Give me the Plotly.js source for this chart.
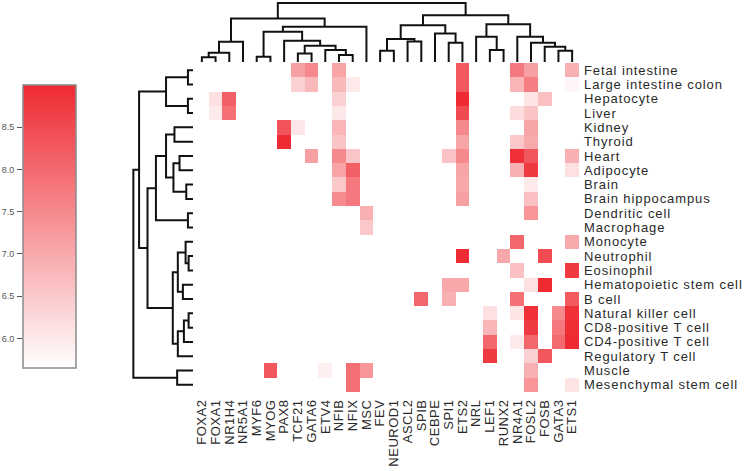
<!DOCTYPE html>
<html>
<head>
<meta charset="utf-8">
<script src="https://cdn.plot.ly/plotly-3.0.1.min.js"></script>
<style>
  body { margin: 0; background: #fff; }
  #plot { width: 746px; height: 471px; }
  #plot .ytick text { letter-spacing: 0.9px; }
  #plot .xtick text { letter-spacing: 0.5px; }
</style>
</head>
<body>
<div id="plot"></div>
<script>
var factors = ["FOXA2", "FOXA1", "NR1H4", "NR5A1", "MYF6", "MYOG", "PAX8", "TCF21",
  "GATA6", "ETV4", "NFIB", "NFIX", "MSC", "FEV", "NEUROD1", "ASCL2", "SPIB", "CEBPE",
  "SPI1", "ETS2", "NRL", "LEF1", "RUNX2", "NR4A1", "FOSL2", "FOSB", "GATA3", "ETS1"];

var tissues = ["Fetal intestine", "Large intestine colon", "Hepatocyte", "Liver", "Kidney",
  "Thyroid", "Heart", "Adipocyte", "Brain", "Brain hippocampus", "Dendritic cell",
  "Macrophage", "Monocyte", "Neutrophil", "Eosinophil", "Hematopoietic stem cell", "B cell",
  "Natural killer cell", "CD8-positive T cell", "CD4-positive T cell", "Regulatory T cell",
  "Muscle", "Mesenchymal stem cell"];

// enrichment scores, one list per tissue (same order as tissues)
var scores = [
  [["TCF21", 7.15], ["GATA6", 7.5], ["NFIB", 7.07], ["ETS2", 8.25], ["NR4A1", 7.75], ["FOSL2", 7.15], ["ETS1", 6.89]],
  [["TCF21", 6.39], ["GATA6", 6.77], ["NFIB", 6.77], ["NFIX", 6.0], ["ETS2", 8.25], ["NR4A1", 6.81], ["FOSL2", 7.68], ["ETS1", 5.79]],
  [["FOXA1", 6.14], ["NR1H4", 8.15], ["NFIB", 6.39], ["ETS2", 9.0], ["FOSL2", 6.07], ["FOSB", 6.64]],
  [["FOXA1", 5.97], ["NR1H4", 7.9], ["NFIB", 6.01], ["ETS2", 8.5], ["NR4A1", 6.2], ["FOSL2", 6.58]],
  [["PAX8", 8.35], ["TCF21", 6.05], ["NFIB", 6.81], ["ETS2", 7.5], ["FOSL2", 7.07]],
  [["PAX8", 9.0], ["NFIB", 6.58], ["ETS2", 7.07], ["NR4A1", 6.51], ["FOSL2", 7.0]],
  [["GATA6", 7.15], ["NFIB", 7.5], ["NFIX", 6.56], ["SPI1", 6.58], ["ETS2", 7.5], ["NR4A1", 8.9], ["FOSL2", 8.3], ["ETS1", 6.89]],
  [["NFIB", 7.1], ["NFIX", 8.15], ["ETS2", 7.07], ["NR4A1", 6.89], ["FOSL2", 8.75], ["ETS1", 6.14]],
  [["NFIB", 6.51], ["NFIX", 7.77], ["ETS2", 7.02], ["FOSL2", 6.0]],
  [["NFIB", 7.48], ["NFIX", 7.75], ["ETS2", 7.15], ["FOSL2", 6.64]],
  [["MSC", 6.89], ["FOSL2", 7.32]],
  [["MSC", 6.51]],
  [["NR4A1", 8.05], ["ETS1", 6.99]],
  [["ETS2", 9.0], ["RUNX2", 7.02], ["FOSB", 8.5]],
  [["NR4A1", 6.64], ["ETS1", 8.75]],
  [["SPI1", 7.02], ["ETS2", 7.02], ["FOSL2", 6.14], ["FOSB", 9.0]],
  [["SPIB", 8.05], ["SPI1", 6.89], ["NR4A1", 7.9], ["ETS1", 8.25]],
  [["LEF1", 6.14], ["NR4A1", 6.07], ["FOSL2", 8.9], ["GATA3", 7.5], ["ETS1", 8.9]],
  [["LEF1", 6.81], ["FOSL2", 8.75], ["GATA3", 7.77], ["ETS1", 8.95]],
  [["LEF1", 8.05], ["NR4A1", 5.98], ["FOSL2", 8.05], ["GATA3", 8.0], ["ETS1", 9.0]],
  [["LEF1", 8.75], ["FOSL2", 6.39], ["FOSB", 8.3]],
  [["MYOG", 8.3], ["ETV4", 5.89], ["NFIX", 7.9], ["MSC", 7.32], ["FOSL2", 6.89]],
  [["NFIX", 7.9], ["FOSL2", 7.32], ["ETS1", 6.07]]
];

var zmin = 5.65, zmax = 9.0;
var cbTicks = [6.0, 6.5, 7.0, 7.5, 8.0, 8.5];

// clustering trees: [left, right, height], leaves are indices into factors / tissues
var colTree = [
  [[[[0, 1, 14], 2, 28], 3, 61],
   [[[4, 5, 16], [6, [[7, 8, 26], [9, [10, 11, 21], 36], 49], 64], 91], 12, 106], 131],
  [[[[13, 14, 34], [15, 16, 62], 69], [17, [18, 19, 58], 86], 111],
   [[20, [21, 22, 36], 76], [23, [24, [25, [26, 27, 34], 46], 58], 76], 114], 141],
  178];

var rowTree = [
  [[[0, 1, 15], [2, 3, 15], 80],
   [[[[4, 5, 55], [[6, 7, 40], [8, 9, 20], 58], 80], [10, 11, 15], 110],
    [[[12, [13, 14, 13], 22], [15, 16, 30], 45], [[[17, 18, 13], 19, 27], 20, 45], 60], 135], 160],
  [21, 22, 47],
  177];

var z = tissues.map(function (t, i) {
  var row = factors.map(function () { return null; });
  scores[i].forEach(function (s) { row[factors.indexOf(s[0])] = s[1]; });
  return row;
});

function dendro(tree) {
  var pos = [], hgt = [];
  function walk(node) {
    if (typeof node === "number") return { p: node, h: 0 };
    var a = walk(node[0]), b = walk(node[1]), h = node[2];
    pos.push(a.p, a.p, b.p, b.p, null);
    hgt.push(a.h, h, h, b.h, null);
    return { p: (a.p + b.p) / 2, h: h };
  }
  walk(tree);
  return { pos: pos, hgt: hgt };
}

var colDendro = dendro(colTree);
var rowDendro = dendro(rowTree);

var W = 746, H = 471;
function px(a, b) { return [a / W, b / W]; }
function py(a, b) { return [1 - b / H, 1 - a / H]; }

var heat = {
  type: "heatmap",
  x: factors,
  y: tissues,
  z: z,
  zmin: zmin,
  zmax: zmax,
  colorscale: [[0, "#ffffff"], [1, "#ee2a32"]],
  hoverongaps: false,
  colorbar: {
    x: 23 / W, xanchor: "left", xref: "paper",
    y: 1 - 85 / H, yanchor: "top", yref: "paper",
    len: 283 / H, lenmode: "fraction",
    thickness: 53, thicknessmode: "pixels",
    xpad: 0, ypad: 0,
    outlinewidth: 1.5, outlinecolor: "#8a8a8a",
    showticklabels: false, ticks: ""
  }
};

var topLines = {
  type: "scatter", mode: "lines", x: colDendro.pos, y: colDendro.hgt,
  xaxis: "x2", yaxis: "y2", line: { color: "#111", width: 2 },
  hoverinfo: "skip", showlegend: false
};

var sideLines = {
  type: "scatter", mode: "lines", x: rowDendro.hgt, y: rowDendro.pos,
  xaxis: "x3", yaxis: "y3", line: { color: "#111", width: 2 },
  hoverinfo: "skip", showlegend: false
};

var cbAxis = {
  type: "scatter", x: [], y: [], xaxis: "x4", yaxis: "y4",
  showlegend: false, hoverinfo: "skip"
};

var labelFont = { family: "Liberation Sans, Arial, sans-serif", size: 13, color: "#2a2a2a" };

var layout = {
  width: W,
  height: H,
  margin: { l: 0, r: 0, t: 0, b: 0 },
  paper_bgcolor: "#fff",
  plot_bgcolor: "rgba(0,0,0,0)",
  showlegend: false,
  xaxis: {
    domain: px(195, 579), anchor: "y", type: "category",
    tickmode: "array", tickvals: factors, ticktext: factors,
    tickangle: -90, tickfont: labelFont, ticks: "", showgrid: false,
    zeroline: false, showline: false, fixedrange: true, ticklabelstandoff: 4
  },
  yaxis: {
    domain: py(63, 392), anchor: "x", type: "category", side: "right",
    tickmode: "array", tickvals: tissues, ticktext: tissues,
    autorange: "reversed", tickfont: labelFont, ticks: "", showgrid: false,
    zeroline: false, showline: false, fixedrange: true, ticklabelstandoff: 4
  },
  xaxis2: {
    domain: px(195, 579), anchor: "y2", range: [-0.5, factors.length - 0.5],
    visible: false, fixedrange: true
  },
  yaxis2: {
    domain: py(1, 62), anchor: "x2", range: [0, 184],
    visible: false, fixedrange: true
  },
  xaxis3: {
    domain: px(132, 193), anchor: "y3", range: [181, 0],
    visible: false, fixedrange: true
  },
  yaxis3: {
    domain: py(63, 392), anchor: "x3", range: [tissues.length - 0.5, -0.5],
    visible: false, fixedrange: true
  },
  xaxis4: {
    domain: px(23, 76), anchor: "y4", range: [0, 1],
    visible: false, fixedrange: true
  },
  yaxis4: {
    domain: py(85, 368), anchor: "x4", range: [zmin, zmax],
    tickvals: cbTicks, tickformat: ".1f", ticks: "outside", ticklen: 5,
    tickcolor: "#555", tickwidth: 1, showgrid: false, zeroline: false,
    showline: false, ticklabelstandoff: 1,
    tickfont: { family: "Liberation Sans, Arial, sans-serif", size: 9, color: "#555" },
    fixedrange: true
  }
};

Plotly.newPlot("plot", [heat, topLines, sideLines, cbAxis], layout, { staticPlot: true });
</script>
</body>
</html>
